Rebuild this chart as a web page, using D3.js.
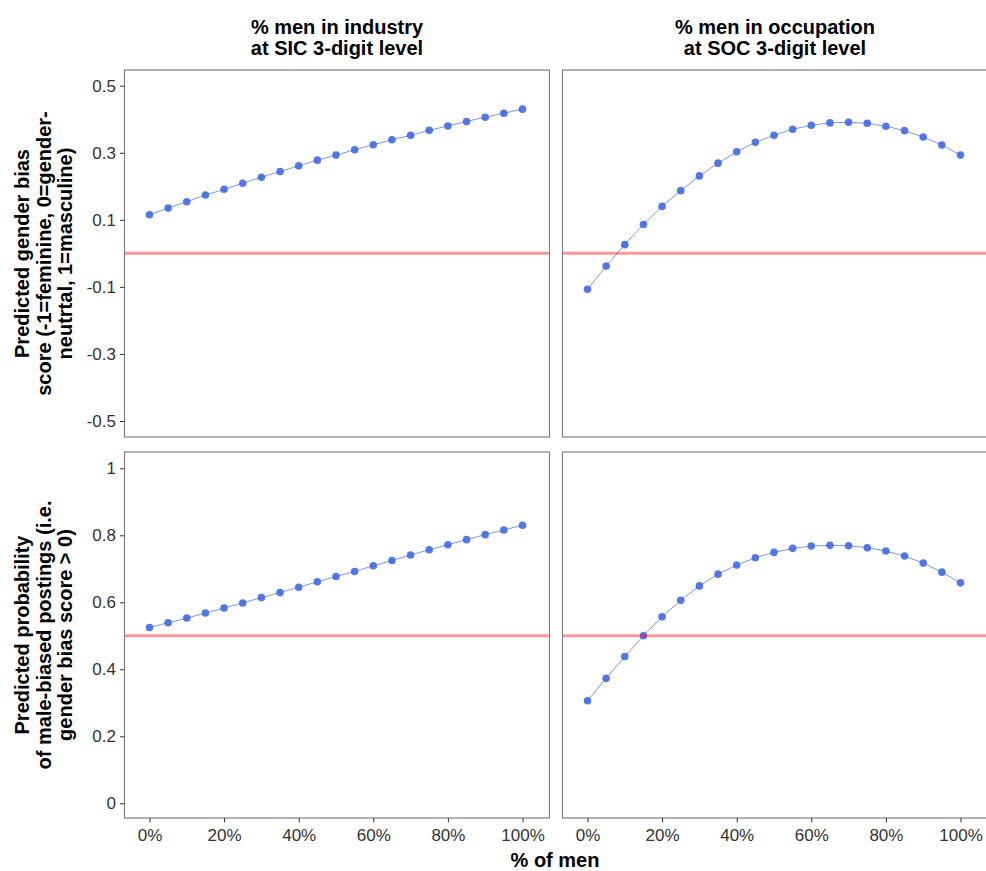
<!DOCTYPE html>
<html>
<head>
<meta charset="utf-8">
<script src="https://cdn.jsdelivr.net/npm/d3@7"></script>
<style>
  html, body { margin: 0; padding: 0; background: #fff; }
  svg { display: block; font-family: "Liberation Sans", Arial, Helvetica, sans-serif; }
</style>
</head>
<body>
<svg id="chart" width="986" height="871"></svg>
<script>
// ---- Data ----
const pctMen = [0, 0.05, 0.10, 0.15, 0.20, 0.25, 0.30, 0.35, 0.40, 0.45, 0.50,
                0.55, 0.60, 0.65, 0.70, 0.75, 0.80, 0.85, 0.90, 0.95, 1.00];

const scoreIndustry = [0.115, 0.135, 0.154, 0.174, 0.191, 0.209, 0.227, 0.244, 0.261, 0.278, 0.293,
                       0.309, 0.324, 0.339, 0.352, 0.367, 0.380, 0.393, 0.406, 0.418, 0.430];
const scoreOccupation = [-0.107, -0.038, 0.026, 0.086, 0.140, 0.187, 0.231, 0.269, 0.303, 0.331, 0.352,
                         0.370, 0.382, 0.389, 0.391, 0.388, 0.379, 0.366, 0.347, 0.323, 0.293];
const probIndustry = [0.525, 0.539, 0.553, 0.568, 0.583, 0.598, 0.614, 0.629, 0.645, 0.661, 0.677,
                      0.692, 0.709, 0.725, 0.741, 0.757, 0.772, 0.787, 0.802, 0.816, 0.830];
const probOccupation = [0.306, 0.373, 0.438, 0.500, 0.557, 0.606, 0.649, 0.684, 0.711, 0.733, 0.749,
                        0.761, 0.768, 0.770, 0.769, 0.763, 0.753, 0.738, 0.717, 0.690, 0.658];

const colTitles = [["% men in industry", "at SIC 3-digit level"],
                   ["% men in occupation", "at SOC 3-digit level"]];
const rowTitles = [["Predicted gender bias", "score (-1=feminine, 0=gender-", "neutrtal, 1=masculine)"],
                   ["Predicted probability", "of male-biased postings (i.e.", "gender bias score > 0)"]];
const xTicks = [0, 0.2, 0.4, 0.6, 0.8, 1.0];
const yTicksTop = [-0.5, -0.3, -0.1, 0.1, 0.3, 0.5];
const yTicksBottom = [0, 0.2, 0.4, 0.6, 0.8, 1];
const refLines = [0, 0.5];
const xTitle = "% of men";

// ---- Layout ----
const svg = d3.select("#chart");
const colX = [124.5, 562.5];
const panelW = 425;
const rowY = [70, 452];
const panelH = [367, 366];

const yScales = [
  d3.scaleLinear().domain([-0.5, 0.5]).range([421, 85.7]),
  d3.scaleLinear().domain([0, 1]).range([803.3, 468.3])
];
const yTickSets = [yTicksTop, yTicksBottom];
const fmt1 = d => d3.format(".1f")(d).replace("\u2212", "-");
const yFormats = [fmt1, d => (d === 0 || d === 1) ? String(d) : fmt1(d)];
const series = [[scoreIndustry, scoreOccupation], [probIndustry, probOccupation]];

const textCol = "#333333";
const borderCol = "#808080";
const blue = "#4169E1";

for (let r = 0; r < 2; r++) {
  for (let c = 0; c < 2; c++) {
    const px = colX[c], py = rowY[r], ph = panelH[r];
    const x = d3.scaleLinear().domain([0, 1]).range([px + 25, px + 25 + 373]);
    const y = yScales[r];
    const g = svg.append("g");

    const clipId = `clip-${r}-${c}`;
    g.append("clipPath").attr("id", clipId)
      .append("rect").attr("x", px).attr("y", py).attr("width", panelW).attr("height", ph);

    const inner = g.append("g").attr("clip-path", `url(#${clipId})`);

    const pts = pctMen.map((p, i) => [p, series[r][c][i]]);

    inner.append("path")
      .datum(pts)
      .attr("fill", "none")
      .attr("stroke", blue)
      .attr("stroke-opacity", 0.7)
      .attr("stroke-width", 1)
      .attr("d", d3.line().x(d => x(d[0])).y(d => y(d[1])));

    inner.selectAll("circle")
      .data(pts)
      .enter().append("circle")
      .attr("cx", d => x(d[0]))
      .attr("cy", d => y(d[1]))
      .attr("r", 3.8)
      .attr("fill", blue)
      .attr("fill-opacity", 0.9);

    inner.append("line")
      .attr("x1", px).attr("x2", px + panelW)
      .attr("y1", y(refLines[r])).attr("y2", y(refLines[r]))
      .attr("stroke", "#ff0000")
      .attr("stroke-opacity", 0.4)
      .attr("stroke-width", 3);

    // border
    g.append("rect")
      .attr("x", px).attr("y", py).attr("width", panelW).attr("height", ph)
      .attr("fill", "none").attr("stroke", borderCol).attr("stroke-width", 1.2);

    // y axis (left column only)
    if (c === 0) {
      const ya = d3.axisLeft(y).tickValues(yTickSets[r]).tickSize(4.5).tickPadding(4)
        .tickFormat(yFormats[r]);
      const yg = g.append("g").attr("transform", `translate(${px},0)`).call(ya);
      yg.select(".domain").remove();
      yg.selectAll(".tick line").attr("stroke", textCol).attr("stroke-width", 1);
      yg.selectAll(".tick text").attr("fill", textCol).style("font-size", "17px")
        .style("font-family", '"Liberation Sans", Arial, sans-serif');
    }
    // x axis (bottom row only)
    if (r === 1) {
      const xa = d3.axisBottom(x).tickValues(xTicks).tickSize(4.5).tickPadding(6)
        .tickFormat(d3.format(".0%"));
      const xg = g.append("g").attr("transform", `translate(0,${py + ph})`).call(xa);
      xg.select(".domain").remove();
      xg.selectAll(".tick line").attr("stroke", textCol).attr("stroke-width", 1);
      xg.selectAll(".tick text").attr("fill", textCol).style("font-size", "17px")
        .style("font-family", '"Liberation Sans", Arial, sans-serif');
    }
  }
}

// column titles
colTitles.forEach((lines, c) => {
  const cx = colX[c] + panelW / 2;
  lines.forEach((t, i) => {
    svg.append("text")
      .attr("x", cx).attr("y", 34 + i * 21)
      .attr("text-anchor", "middle")
      .style("font-size", "20px").style("font-weight", "bold")
      .attr("fill", "#000")
      .text(t);
  });
});

// row titles
rowTitles.forEach((lines, r) => {
  const cy = rowY[r] + panelH[r] / 2;
  lines.forEach((t, i) => {
    const bx = 29 + i * 21.5;
    svg.append("text")
      .attr("transform", `translate(${bx},${cy}) rotate(-90)`)
      .attr("text-anchor", "middle")
      .style("font-size", "20px").style("font-weight", "bold")
      .attr("fill", "#000")
      .text(t);
  });
});

// x title
svg.append("text")
  .attr("x", 555).attr("y", 867)
  .attr("text-anchor", "middle")
  .style("font-size", "20px").style("font-weight", "bold")
  .attr("fill", "#000")
  .text(xTitle);
</script>
</body>
</html>
